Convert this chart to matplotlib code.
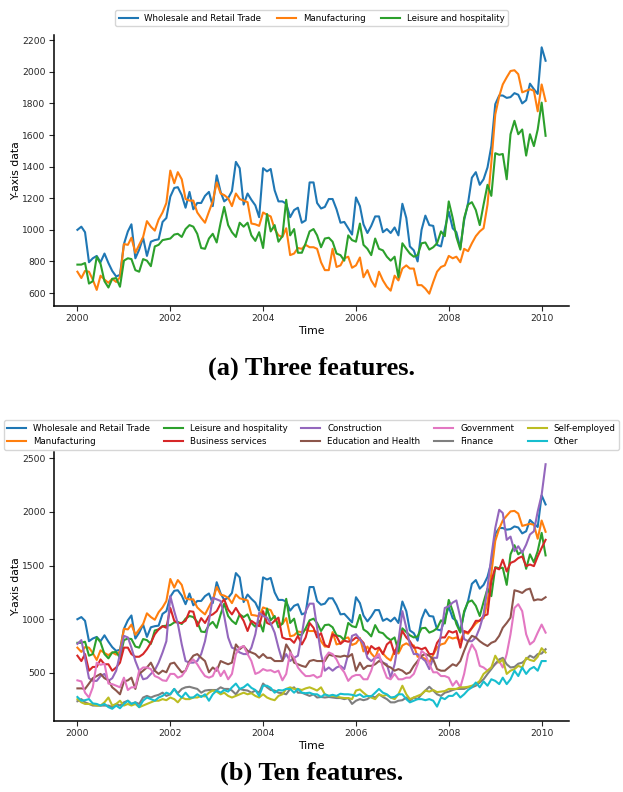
import matplotlib
matplotlib.use("Agg")
import matplotlib.pyplot as plt
import matplotlib.dates as mdates
import pandas as pd

# monthly series, Jan 2000 .. Feb 2010
dates = pd.date_range("2000-01-01", periods=122, freq="MS")

wholesale = [1000, 1020, 985, 795, 820, 835, 795, 850, 790, 740, 705, 715,
             910, 990, 1035, 820, 875, 950, 835, 925, 935, 940, 1050, 1075,
             1210, 1265, 1270, 1220, 1140, 1240, 1130, 1170, 1170, 1215, 1240, 1150,
             1345, 1240, 1180, 1200, 1245, 1430, 1390, 1160, 1230, 1190, 1155, 1080,
             1390, 1370, 1385, 1250, 1180, 1180, 1165, 1080, 1125, 1140, 1045, 1060,
             1300, 1300, 1170, 1135, 1145, 1195, 1195, 1130, 1045, 1050, 1010, 970,
             1205, 1150, 1035, 980, 1025, 1085, 1085, 985, 1005, 980, 1015, 965,
             1165, 1075, 895, 870, 800, 1000, 1090, 1030, 1025, 905, 895, 1005,
             1115, 1010, 985, 885, 1060, 1170, 1330, 1365, 1285, 1320, 1395, 1530,
             1795, 1850, 1850, 1835, 1840, 1865, 1855, 1800, 1820, 1925, 1890, 1860,
             2155, 2070]
manufacturing = [735, 695, 740, 735, 685, 620, 710, 685, 665, 690, 670, 700,
                 910, 905, 950, 855, 905, 955, 1055, 1020, 995, 1065, 1110, 1170,
                 1375, 1295, 1365, 1320, 1195, 1185, 1185, 1110, 1075, 1045, 1115, 1180,
                 1300, 1230, 1220, 1200, 1150, 1230, 1195, 1185, 1175, 1040, 1035, 1025,
                 1110, 1095, 1085, 1005, 965, 955, 1010, 840, 850, 885, 880, 905,
                 890, 890, 880, 795, 745, 745, 880, 765, 775, 820, 830, 760,
                 775, 825, 700, 745, 680, 640, 735, 680, 640, 615, 710, 680,
                 755, 775, 755, 755, 650, 650, 628, 596, 670, 735, 765, 775,
                 835, 820, 830, 795, 880, 865, 915, 960, 990, 1010, 1160, 1425,
                 1730, 1845, 1920, 1965, 2005, 2010, 1985, 1870, 1880, 1890, 1880, 1750,
                 1920, 1815]
leisure = [780, 780, 790, 660, 675, 830, 785, 675, 635, 690, 695, 640,
           805, 820, 815, 745, 735, 815, 805, 770, 895, 905, 935, 940,
           945, 970, 975, 955, 1005, 1030, 1020, 975, 885, 880, 945, 975,
           920, 1045, 1145, 1030, 985, 955, 1045, 1020, 1045, 965, 930, 985,
           885, 1100, 990, 1030, 925, 960, 1190, 965, 1005, 855, 855, 915,
           990, 1005, 965, 890, 945, 950, 925, 850, 840, 805, 965, 935,
           925, 1040, 905, 880, 840, 945, 880, 870, 830, 805, 830, 700,
           915, 880, 850, 830, 840, 915, 920, 875, 890, 915, 990, 960,
           1180, 1075, 955, 875, 1075, 1160, 1175, 1125, 1030, 1160, 1285, 1215,
           1485, 1475, 1480, 1320, 1605, 1690, 1605, 1635, 1470, 1605, 1530, 1635,
           1805, 1595]
business = [660, 610, 675, 520, 555, 555, 625, 580, 580, 520, 550, 595,
            735, 735, 675, 650, 650, 675, 720, 780, 860, 905, 935, 920,
            1105, 985, 965, 965, 985, 1075, 1070, 935, 1010, 965, 1030, 1045,
            1075, 1145, 1185, 1090, 1045, 1105, 1045, 985, 890, 985, 960, 935,
            1075, 965, 950, 985, 1015, 830, 815, 815, 780, 845, 765, 830,
            965, 920, 830, 870, 760, 740, 860, 840, 770, 800, 790, 800,
            830, 815, 780, 675, 750, 720, 735, 675, 765, 795, 675, 795,
            890, 830, 795, 735, 735, 720, 735, 675, 675, 780, 830, 830,
            890, 875, 890, 735, 890, 875, 920, 985, 985, 1030, 1045, 1355,
            1480, 1465, 1555, 1445, 1525, 1540, 1570, 1585, 1495, 1510, 1495, 1585,
            1665, 1740]
construction = [770, 805, 640, 450, 425, 425, 470, 490, 425, 450, 520, 675,
                845, 830, 735, 610, 520, 440, 450, 490, 525, 595, 690, 795,
                1215, 1075, 960, 765, 610, 595, 595, 610, 675, 795, 985, 1200,
                1185, 1170, 1030, 830, 735, 720, 690, 675, 675, 735, 860, 1060,
                1030, 1015, 960, 875, 735, 610, 675, 610, 640, 660, 860, 1075,
                1145, 1145, 920, 675, 520, 550, 520, 550, 565, 535, 675, 845,
                860, 815, 765, 640, 610, 640, 645, 595, 580, 455, 580, 795,
                1075, 920, 765, 675, 675, 640, 610, 535, 640, 640, 860, 1105,
                1120, 1155, 1175, 1015, 815, 795, 795, 830, 920, 1045, 1295, 1585,
                1850, 2020, 1990, 1740, 1770, 1635, 1680, 1620, 1695, 1790, 1820, 2005,
                2160, 2445]
education = [355, 355, 350, 400, 450, 470, 490, 450, 430, 365, 335, 300,
             420, 430, 455, 350, 490, 520, 550, 595, 520, 490, 520, 505,
             585, 595, 550, 505, 520, 610, 660, 675, 640, 610, 505, 550,
             520, 610, 595, 580, 595, 765, 720, 750, 705, 690, 675, 640,
             675, 640, 640, 610, 610, 610, 765, 705, 595, 580, 565, 555,
             610, 620, 610, 610, 610, 670, 660, 655, 650, 660, 650, 675,
             520, 595, 535, 565, 565, 580, 610, 595, 565, 550, 520, 535,
             520, 490, 505, 565, 610, 660, 675, 660, 625, 535, 520, 520,
             550, 580, 565, 610, 705, 795, 845, 830, 795, 770, 750, 780,
             795, 845, 920, 965, 1015, 1270, 1260, 1245, 1275, 1285, 1175, 1185,
             1180, 1205]
government = [430, 420, 315, 270, 365, 595, 575, 585, 400, 395, 380, 365,
              455, 340, 365, 365, 520, 550, 550, 535, 470, 455, 430, 425,
              490, 490, 455, 470, 520, 595, 625, 580, 520, 470, 455, 470,
              550, 470, 520, 440, 490, 675, 735, 750, 675, 610, 490, 505,
              535, 520, 525, 505, 520, 430, 490, 690, 640, 550, 505, 470,
              470, 480, 455, 470, 640, 690, 675, 625, 550, 505, 425, 465,
              480, 480, 440, 440, 520, 640, 675, 550, 455, 440, 490, 440,
              440, 455, 455, 490, 580, 705, 675, 580, 505, 505, 470, 470,
              455, 380, 425, 365, 490, 675, 765, 705, 565, 550, 520, 550,
              580, 610, 550, 675, 860, 1105, 1140, 1075, 860, 765, 795, 875,
              950, 875]
finance = [235, 255, 225, 210, 195, 195, 195, 195, 195, 180, 210, 195,
           225, 240, 210, 225, 210, 270, 285, 270, 285, 295, 315, 285,
           300, 350, 310, 350, 365, 370, 360, 350, 315, 335, 340, 340,
           340, 365, 350, 350, 335, 300, 350, 340, 335, 315, 335, 315,
           400, 365, 340, 335, 315, 310, 300, 350, 365, 315, 315, 300,
           285, 300, 270, 275, 270, 275, 270, 265, 265, 255, 265, 210,
           240, 255, 245, 255, 285, 270, 300, 275, 255, 225, 225, 240,
           245, 270, 240, 270, 255, 300, 335, 370, 335, 300, 285, 315,
           325, 340, 350, 350, 350, 365, 365, 380, 410, 440, 490, 535,
           585, 625, 640, 580, 550, 555, 585, 595, 625, 660, 640, 675,
           680, 720]
self_employed = [255, 225, 210, 210, 205, 195, 195, 225, 270, 195, 210, 240,
                 195, 210, 195, 210, 180, 195, 210, 225, 240, 240, 255, 245,
                 270, 255, 225, 270, 255, 255, 270, 270, 285, 280, 315, 335,
                 325, 300, 315, 285, 270, 285, 300, 315, 300, 310, 285, 270,
                 300, 270, 255, 245, 285, 300, 350, 365, 350, 350, 340, 355,
                 365, 350, 335, 365, 300, 285, 285, 280, 270, 265, 265, 255,
                 335, 345, 315, 285, 270, 255, 300, 285, 295, 270, 255, 300,
                 380, 300, 255, 270, 285, 300, 335, 325, 340, 320, 325, 330,
                 350, 350, 350, 365, 365, 370, 380, 395, 425, 490, 520, 550,
                 660, 595, 625, 490, 520, 535, 565, 550, 640, 620, 610, 650,
                 730, 690]
other = [275, 240, 245, 255, 215, 210, 195, 210, 180, 165, 195, 170,
         210, 240, 210, 225, 180, 240, 270, 255, 240, 270, 285, 315,
         300, 350, 300, 270, 315, 270, 270, 300, 275, 300, 240, 300,
         335, 315, 340, 325, 365, 400, 350, 365, 395, 360, 340, 285,
         380, 380, 360, 315, 340, 335, 350, 350, 315, 350, 315, 310,
         315, 300, 300, 275, 300, 285, 295, 285, 305, 300, 300, 295,
         285, 300, 275, 285, 280, 315, 350, 315, 300, 270, 275, 300,
         300, 255, 225, 240, 255, 255, 245, 255, 240, 185, 270, 255,
         285, 285, 315, 270, 300, 340, 365, 410, 365, 420, 380, 440,
         425, 395, 455, 395, 440, 520, 470, 550, 490, 535, 555, 520,
         610, 610]

three = [("Wholesale and Retail Trade", wholesale),
         ("Manufacturing", manufacturing),
         ("Leisure and hospitality", leisure)]
ten = three + [("Business services", business),
               ("Construction", construction),
               ("Education and Health", education),
               ("Government", government),
               ("Finance", finance),
               ("Self-employed", self_employed),
               ("Other", other)]

W, H = 623, 792
fig = plt.figure(figsize=(W / 100, H / 100), dpi=100)


def style_axes(ax):
    ax.spines["top"].set_visible(False)
    ax.spines["right"].set_visible(False)
    for s in ("left", "bottom"):
        ax.spines[s].set_linewidth(1.1)
        ax.spines[s].set_color("black")
    ax.tick_params(labelsize=6.6, length=3.5, width=0.8, colors="0.15", pad=2.5)
    ax.xaxis.set_major_locator(mdates.YearLocator(2))
    ax.xaxis.set_major_formatter(mdates.DateFormatter("%Y"))
    ax.set_xlabel("Time", fontsize=7.8, labelpad=2)
    ax.set_ylabel("Y-axis data", fontsize=7.8, labelpad=1)


# (a) three features
ax1 = fig.add_axes([54 / W, 1 - 306 / H, 515 / W, 271 / H])
for name, vals in three:
    ax1.plot(dates, vals, lw=1.5, label=name)
style_axes(ax1)
h, l = ax1.get_legend_handles_labels()
fig.legend(h, l, loc="upper center", bbox_to_anchor=(0.5, 1 - 6 / H), ncol=3,
           fontsize=6.2, handlelength=2.2, columnspacing=1.8, borderpad=0.4)
fig.text(0.5, 1 - 368 / H, "(a) Three features.", ha="center", va="center",
         fontsize=19, fontweight="bold", family="Liberation Serif")

# (b) ten features
ax2 = fig.add_axes([54 / W, 1 - 721 / H, 515 / W, 269 / H])
for name, vals in ten:
    ax2.plot(dates, vals, lw=1.5, label=name)
style_axes(ax2)
h, l = ax2.get_legend_handles_labels()
fig.legend(h, l, loc="upper center", bbox_to_anchor=(0.5, 1 - 416 / H), ncol=5,
           fontsize=6.2, handlelength=2.2, columnspacing=1.6, borderpad=0.4)
fig.text(0.5, 1 - 773 / H, "(b) Ten features.", ha="center", va="center",
         fontsize=19, fontweight="bold", family="Liberation Serif")

fig.savefig("out.png", dpi=100)
